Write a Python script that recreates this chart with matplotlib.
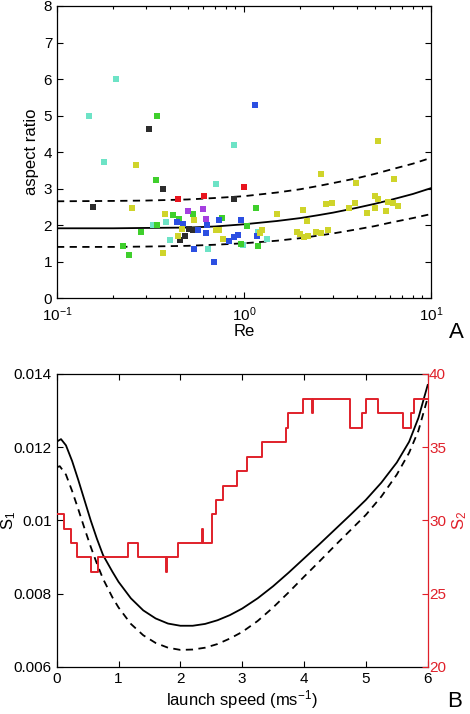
import matplotlib
matplotlib.use('Agg')
import matplotlib.pyplot as plt
from matplotlib.ticker import LogLocator, FixedLocator, NullFormatter, FixedFormatter

plt.rcParams['font.family'] = ['Liberation Sans', 'DejaVu Sans']
plt.rcParams['mathtext.fontset'] = 'custom'
plt.rcParams['mathtext.rm'] = 'Liberation Sans'
plt.rcParams['mathtext.it'] = 'Liberation Sans:italic'
plt.rcParams['mathtext.bf'] = 'Liberation Sans:bold'

# ---------------- Panel A data ----------------
cyan_re = [0.148, 0.2075, 0.178, 0.327, 0.385, 0.400, 0.710, 0.879, 0.641, 0.986, 1.324, 1.195]
cyan_ar = [5.00, 6.00, 3.74, 1.99, 2.08, 1.58, 3.12, 4.20, 1.35, 1.46, 1.62, 1.81]

green_re = [0.341, 0.338, 0.226, 0.244, 0.282, 0.342, 0.415, 0.447, 0.531, 0.764, 1.161, 1.035, 0.966, 1.195]
green_ar = [5.00, 3.245, 1.42, 1.18, 1.81, 1.99, 2.27, 2.16, 2.29, 2.18, 2.46, 1.97, 1.49, 1.43]

black_re = [0.310, 0.371, 0.156, 0.879, 0.452, 0.481, 0.505, 0.533]
black_ar = [4.62, 3.00, 2.50, 2.71, 1.58, 1.71, 1.90, 1.86]

red_re = [0.441, 0.6075, 0.994]
red_ar = [2.71, 2.80, 3.03]

purple_re = [0.499, 0.600, 0.625]
purple_ar = [2.38, 2.45, 2.16]

blue_re = [1.147, 0.438, 0.471, 0.567, 0.537, 0.625, 0.633, 0.687, 0.736, 0.962, 0.827, 0.879, 0.927, 1.171]
blue_ar = [5.30, 2.08, 2.04, 1.87, 1.35, 1.78, 1.99, 0.99, 2.15, 2.15, 1.55, 1.67, 1.74, 1.69]

yellow_re = [0.264, 0.252, 0.376, 0.368, 0.465, 0.443, 0.537, 0.710, 0.739, 0.771, 1.245, 1.220,
             1.510, 2.062, 2.167, 1.916, 1.988, 2.088, 2.211, 2.420, 2.584, 2.828, 2.584, 2.748,
             2.946, 3.975, 3.662, 3.942, 4.532, 5.022, 5.022, 5.188, 5.231, 5.750, 6.370, 5.916,
             6.266, 6.636]
yellow_ar = [3.65, 2.46, 2.29, 1.24, 1.90, 1.70, 2.13, 1.87, 1.86, 1.61, 1.87, 1.79,
             2.29, 2.40, 2.11, 1.82, 1.75, 1.68, 1.70, 1.81, 1.79, 1.87, 3.41, 2.57,
             2.60, 3.15, 2.47, 2.60, 2.33, 2.46, 2.80, 2.70, 4.30, 2.39, 3.25, 2.64,
             2.61, 2.52]

fit_re = [0.1, 0.2, 0.3, 0.5, 0.7, 1.0, 1.5, 2.0, 2.5, 3.0, 4.0, 5.0, 6.0, 8.0, 10.0]
fit_mid = [1.91, 1.91, 1.92, 1.93, 1.96, 2.02, 2.11, 2.19, 2.27, 2.34, 2.47, 2.58, 2.68, 2.85, 3.01]
fit_hi = [2.65, 2.66, 2.67, 2.70, 2.74, 2.79, 2.89, 2.98, 3.07, 3.15, 3.28, 3.40, 3.51, 3.68, 3.84]
fit_lo = [1.40, 1.40, 1.41, 1.43, 1.46, 1.50, 1.57, 1.64, 1.71, 1.77, 1.88, 1.97, 2.06, 2.19, 2.30]

# ---------------- Panel B data ----------------
speed_solid = [0.0, 0.07, 0.15, 0.25, 0.35, 0.45, 0.55, 0.65, 0.75, 0.9, 1.0, 1.2, 1.4, 1.6, 1.8,
               2.0, 2.2, 2.4, 2.6, 2.8, 3.0, 3.25, 3.5, 3.75, 4.0, 4.25, 4.5, 4.75, 5.0, 5.25,
               5.5, 5.7, 5.85, 6.0]
s1_solid = [0.01215, 0.01222, 0.01205, 0.01162, 0.01110, 0.01055, 0.01000, 0.00950, 0.00905,
            0.00860, 0.00832, 0.00787, 0.00754, 0.00732, 0.00718, 0.00712, 0.00712, 0.00717,
            0.00727, 0.00741, 0.00759, 0.00787, 0.00820, 0.00857, 0.00896, 0.00935, 0.00975,
            0.01015, 0.01056, 0.01103, 0.01158, 0.01215, 0.01280, 0.01370]
speed_dashed = [0.0, 0.05, 0.15, 0.25, 0.35, 0.45, 0.55, 0.65, 0.75, 0.9, 1.0, 1.2, 1.4, 1.6, 1.8,
                2.0, 2.2, 2.4, 2.6, 2.8, 3.0, 3.25, 3.5, 3.75, 4.0, 4.25, 4.5, 4.75, 5.0, 5.25,
                5.5, 5.7, 5.85, 6.0]
s1_dashed = [0.01145, 0.01148, 0.01125, 0.01080, 0.01030, 0.00978, 0.00928, 0.00882, 0.00840,
             0.00790, 0.00762, 0.00717, 0.00686, 0.00665, 0.00652, 0.00646, 0.00647, 0.00652,
             0.00662, 0.00677, 0.00695, 0.00725, 0.00762, 0.00803, 0.00846, 0.00888, 0.00931,
             0.00973, 0.01015, 0.01065, 0.01125, 0.01185, 0.01245, 0.01335]

s2_x = [0.0, 0.118, 0.231, 0.334, 0.555, 0.663, 1.159, 1.321, 1.763, 1.785, 1.967, 2.355, 2.37,
        2.507, 2.576, 2.685, 2.911, 3.073, 3.316, 3.709, 3.736, 3.989, 4.128, 4.142, 4.744,
        4.933, 4.997, 5.19, 5.606, 5.73, 5.784, 6.0]
s2_y = [30.43, 29.43, 28.45, 27.47, 26.47, 27.47, 28.45, 27.47, 26.47, 27.47, 28.45, 29.43, 28.45,
        30.43, 31.39, 32.37, 33.37, 34.33, 35.33, 36.29, 37.31, 38.27, 37.31, 38.27, 36.29,
        37.31, 38.27, 37.31, 36.29, 37.31, 38.27, 38.27]

# ---------------- Figure ----------------
fig = plt.figure(figsize=(4.7, 7.14), dpi=100)
FS = 11
LFS = 12

axA = fig.add_axes([0.1213, 0.5826, 0.7957, 0.409])
axA.plot(fit_re, fit_mid, color='black', lw=1.3)
axA.plot(fit_re, fit_hi, color='black', lw=1.3, ls=(0, (4, 3)))
axA.plot(fit_re, fit_lo, color='black', lw=1.3, ls=(0, (4, 3)))

groups = [(cyan_re, cyan_ar, '#6de3c6'), (green_re, green_ar, '#3fcf2c'),
          (black_re, black_ar, '#2c2c2c'), (red_re, red_ar, '#e8141e'),
          (purple_re, purple_ar, '#a53fe0'), (blue_re, blue_ar, '#2c4fe2'),
          (yellow_re, yellow_ar, '#cfd42a')]
for xs, ys, c in groups:
    axA.plot(xs, ys, 's', color=c, ms=4.5, mew=0, zorder=3)

axA.set_xscale('log')
axA.set_xlim(0.1, 10)
axA.set_ylim(0, 8)
axA.set_yticks(range(0, 9))
axA.xaxis.set_major_locator(LogLocator(base=10, numticks=5))
axA.xaxis.set_minor_locator(LogLocator(base=10, subs=range(2, 10), numticks=20))
axA.xaxis.set_minor_formatter(NullFormatter())
axA.tick_params(which='both', direction='in', top=True, right=True, labelsize=FS, width=0.8)
axA.tick_params(which='major', length=4)
axA.tick_params(which='minor', length=2)
axA.tick_params(axis='x', pad=5)
axA.set_xlabel('Re', fontsize=LFS, labelpad=0)
axA.set_ylabel('aspect ratio', fontsize=LFS, labelpad=3)
for s in axA.spines.values():
    s.set_linewidth(0.9)

axB = fig.add_axes([0.1206, 0.0662, 0.7894, 0.410])
axB.plot(speed_solid, s1_solid, color='black', lw=1.3)
axB.plot(speed_dashed, s1_dashed, color='black', lw=1.3, ls=(0, (4, 3)))
axB.set_xlim(0, 6)
axB.set_ylim(0.006, 0.014)
axB.yaxis.set_major_locator(FixedLocator([0.006, 0.008, 0.010, 0.012, 0.014]))
axB.yaxis.set_major_formatter(FixedFormatter(['0.006', '0.008', '0.01', '0.012', '0.014']))
axB.set_xticks(range(0, 7))
axB.tick_params(direction='in', top=True, right=False, labelsize=FS, length=4, width=0.8)
axB.set_xlabel('launch speed (ms$^{-1}$)', fontsize=LFS, labelpad=2)
axB.set_ylabel('S$_1$', fontsize=LFS)
axB.yaxis.set_label_coords(-0.105, 0.5)
axB.spines['right'].set_visible(False)
for s in axB.spines.values():
    s.set_linewidth(0.9)

red = '#e0202a'
ax2 = axB.twinx()
ax2.step(s2_x, s2_y, where='post', color=red, lw=1.4)
ax2.set_ylim(20, 40)
ax2.set_yticks([20, 25, 30, 35, 40])
ax2.tick_params(direction='in', colors=red, labelsize=FS, length=4, width=0.8, pad=1)
ax2.spines['right'].set_color(red)
ax2.spines['right'].set_linewidth(0.9)
ax2.spines['left'].set_visible(False)
ax2.spines['top'].set_visible(False)
ax2.spines['bottom'].set_visible(False)
ax2.set_ylabel('S$_2$', fontsize=LFS, color=red)
ax2.yaxis.set_label_coords(1.062, 0.5)

fig.text(0.972, 0.534, 'A', fontsize=16, ha='center', va='center')
fig.text(0.968, 0.018, 'B', fontsize=16, ha='center', va='center')

fig.savefig('out.png', dpi=100)
